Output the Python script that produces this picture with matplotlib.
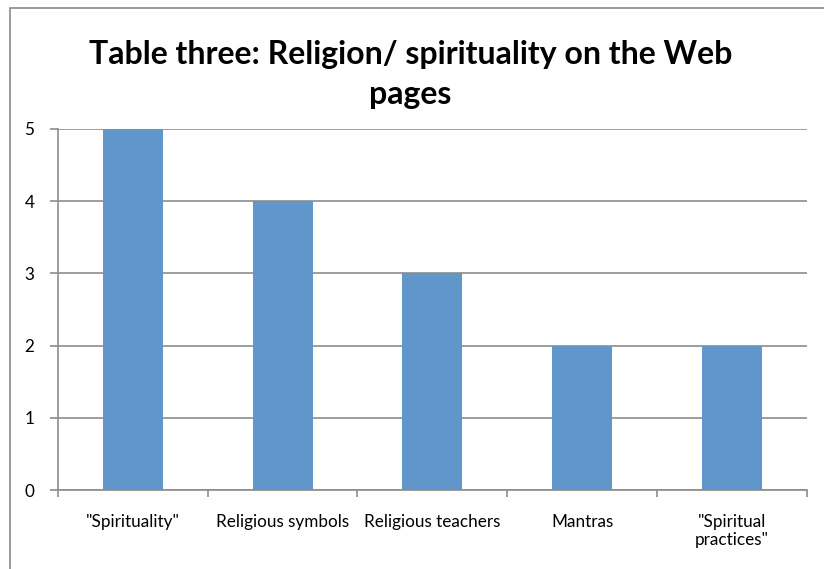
import matplotlib.pyplot as plt
from matplotlib.patches import Rectangle

categories = ['"Spirituality"', "Religious symbols", "Religious teachers",
              "Mantras", '"Spiritual\npractices"']
counts = [5, 4, 3, 2, 2]

plt.rcParams["font.family"] = ["Lato", "DejaVu Sans"]

fig = plt.figure(figsize=(8.24, 5.69), dpi=100)
ax = fig.add_axes([0.0704, 0.1388, 0.9086, 0.6345])

grid_col = "#8c8c8c"

# chart area outline (left and top edges visible)
fig.patches.append(Rectangle((10 / 824, -0.5), 1.5, 1.5 - 8 / 569,
                             transform=fig.transFigure, fill=False,
                             edgecolor="#8a8a8a", linewidth=1.2))

x = range(len(categories))
ax.bar(x, counts, width=0.4, color="#6096CA", zorder=3)

ax.set_xlim(-0.5, len(categories) - 0.5)
ax.set_ylim(0, 5)
ax.set_yticks(range(0, 6))
ax.set_xticks([i - 0.5 for i in range(len(categories) + 1)], minor=False)
ax.set_xticklabels([])
ax.set_xticks(list(x), minor=True)
ax.set_xticklabels(categories, minor=True, fontsize=12.3, va="top",
                   linespacing=1.15)
ax.tick_params(axis="x", which="minor", length=0, pad=17)
ax.tick_params(axis="x", which="major", length=5, color=grid_col, width=1.2)
ax.tick_params(axis="y", length=6, color=grid_col, width=1.2, pad=11,
               labelsize=12.3)

ax.yaxis.grid(True, color=grid_col, linewidth=1.2, zorder=0)
ax.set_axisbelow(True)
for side in ["top", "right"]:
    ax.spines[side].set_visible(False)
for side in ["left", "bottom"]:
    ax.spines[side].set_color(grid_col)
    ax.spines[side].set_linewidth(1.2)
    ax.spines[side].set_zorder(4)

fig.text(0.498, 0.8696, "Table three: Religion/ spirituality on the Web\npages",
         ha="center", va="center", fontsize=23, fontweight="bold",
         linespacing=1.47)

fig.savefig("out.png", dpi=100)
